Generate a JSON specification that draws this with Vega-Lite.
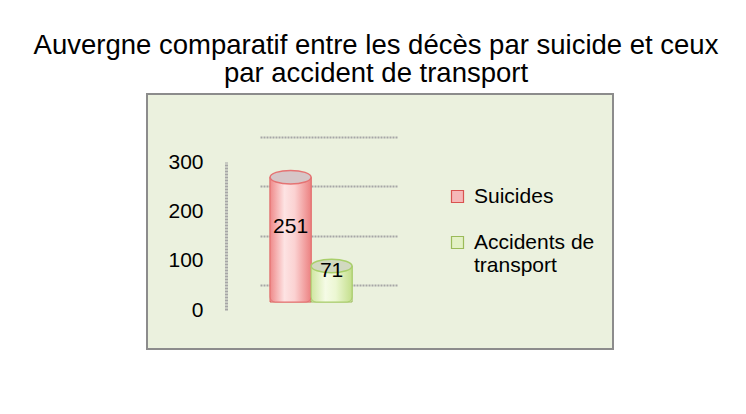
{
  "$schema": "https://vega.github.io/schema/vega-lite/v6.json",
  "width": 466,
  "height": 255,
  "autosize": {"type": "none"},
  "padding": {"left": 147, "top": 94, "right": 133, "bottom": 65},
  "background": "white",
  "title": {
    "text": ["Auvergne comparatif entre les décès par suicide et ceux", "par accident de transport"],
    "font": "Liberation Sans",
    "fontSize": 27.5,
    "fontWeight": "normal",
    "color": "#000000",
    "lineHeight": 28,
    "anchor": "middle",
    "frame": "group",
    "offset": 7,
    "dx": -4
  },
  "data": {
    "values": [
      {"cat": "Suicides", "value": 251},
      {"cat": "Accidents de transport", "value": 71}
    ]
  },
  "config": {
    "view": {"fill": "#ebf1de", "stroke": "#8c8c8c", "strokeWidth": 2},
    "font": "Liberation Sans"
  },
  "layer": [
    {
      "layer": [
        {
          "mark": {"type": "bar", "yOffset": -9, "y2Offset": -8, "strokeWidth": 1},
          "encoding": {
            "x": {"field": "cat", "type": "nominal", "sort": null,
              "scale": {"domain": ["Suicides", "Accidents de transport"], "range": [113, 251], "paddingInner": 0, "paddingOuter": 0.683, "align": 0.18},
              "axis": null},
            "y": {"field": "value", "type": "quantitative", "stack": null,
              "scale": {"domain": [0, 300], "range": [216, 68], "nice": false},
              "axis": {"title": null, "offset": -79, "ticks": false, "labelPadding": 23, "labelFontSize": 21, "labelColor": "#000000", "labelFont": "Liberation Sans", "values": [0, 100, 200, 300], "grid": true, "gridColor": "#a6a6a6", "gridWidth": 2, "gridDash": [2, 1], "tickOffset": -25, "labelOffset": 25, "domainColor": "#a6a6a6", "domainWidth": 3, "domainDash": [2, 1]}},
            "y2": {"datum": 0},
            "fill": {"field": "cat", "type": "nominal",
              "scale": {"domain": ["Suicides", "Accidents de transport"], "range": ["#f6b8b8", "#e3f1c5"]},
              "legend": {"orient": "none", "legendX": 300, "legendY": 92, "title": null, "symbolType": "square", "symbolSize": 144, "symbolStrokeWidth": 1.2, "labelFontSize": 21, "labelFont": "Liberation Sans", "labelColor": "#000000", "labelLimit": 300, "labelOffset": 6, "rowPadding": 24, "labelExpr": "datum.label == 'Accidents de transport' ? ['Accidents de', 'transport'] : datum.label"}},
            "stroke": {"field": "cat", "type": "nominal",
              "scale": {"domain": ["Suicides", "Accidents de transport"], "range": ["#d9534f", "#9bbb59"]}}
          }
        },
        {
          "transform": [{"filter": "datum.cat == 'Suicides'"}],
          "mark": {"type": "bar", "yOffset": -9, "y2Offset": -8, "cornerRadiusBottomLeft": 5, "cornerRadiusBottomRight": 5, "stroke": "#e57373", "strokeWidth": 1,
            "fill": {"gradient": "linear", "x1": 0, "x2": 1, "y1": 0, "y2": 0,
              "stops": [{"offset": 0, "color": "#ef8a8a"}, {"offset": 0.35, "color": "#fde3e3"}, {"offset": 0.6, "color": "#fbd2d2"}, {"offset": 1, "color": "#ec8181"}]}},
          "encoding": {
            "x": {"field": "cat", "type": "nominal", "sort": null},
            "y": {"field": "value", "type": "quantitative", "stack": null},
            "y2": {"datum": 0}
          }
        },
        {
          "transform": [{"filter": "datum.cat == 'Accidents de transport'"}],
          "mark": {"type": "bar", "yOffset": -9, "y2Offset": -8, "cornerRadiusBottomLeft": 5, "cornerRadiusBottomRight": 5, "stroke": "#a9cf6a", "strokeWidth": 1,
            "fill": {"gradient": "linear", "x1": 0, "x2": 1, "y1": 0, "y2": 0,
              "stops": [{"offset": 0, "color": "#cfe6a0"}, {"offset": 0.35, "color": "#f5fbe6"}, {"offset": 0.6, "color": "#ecf7d3"}, {"offset": 1, "color": "#c4df8c"}]}},
          "encoding": {
            "x": {"field": "cat", "type": "nominal", "sort": null},
            "y": {"field": "value", "type": "quantitative", "stack": null},
            "y2": {"datum": 0}
          }
        },
        {
          "mark": {"type": "point", "shape": "M-1,0A1,0.33,0,1,0,1,0A1,0.33,0,1,0,-1,0Z", "size": 1681, "filled": true, "opacity": 1, "yOffset": -9, "strokeWidth": 1.5},
          "encoding": {
            "x": {"field": "cat", "type": "nominal", "sort": null},
            "y": {"field": "value", "type": "quantitative"},
            "fill": {"condition": {"test": "datum.cat == 'Suicides'", "value": "#d6c6c8"}, "value": "#d2d9c0"},
            "stroke": {"condition": {"test": "datum.cat == 'Suicides'", "value": "#e57373"}, "value": "#a9cf6a"}
          }
        }
      ]
    },
    {
      "mark": {"type": "text", "dy": -21, "fontSize": 21, "font": "Liberation Sans", "color": "#000000", "align": "center", "baseline": "middle"},
      "encoding": {
        "x": {"field": "cat", "type": "nominal", "sort": null},
        "y": {"field": "value", "type": "quantitative", "scale": {"domain": [0, 600], "range": [216, 68], "nice": false}, "axis": null},
        "text": {"field": "value", "type": "quantitative"}
      }
    }
  ],
  "resolve": {"scale": {"y": "independent"}}
}
